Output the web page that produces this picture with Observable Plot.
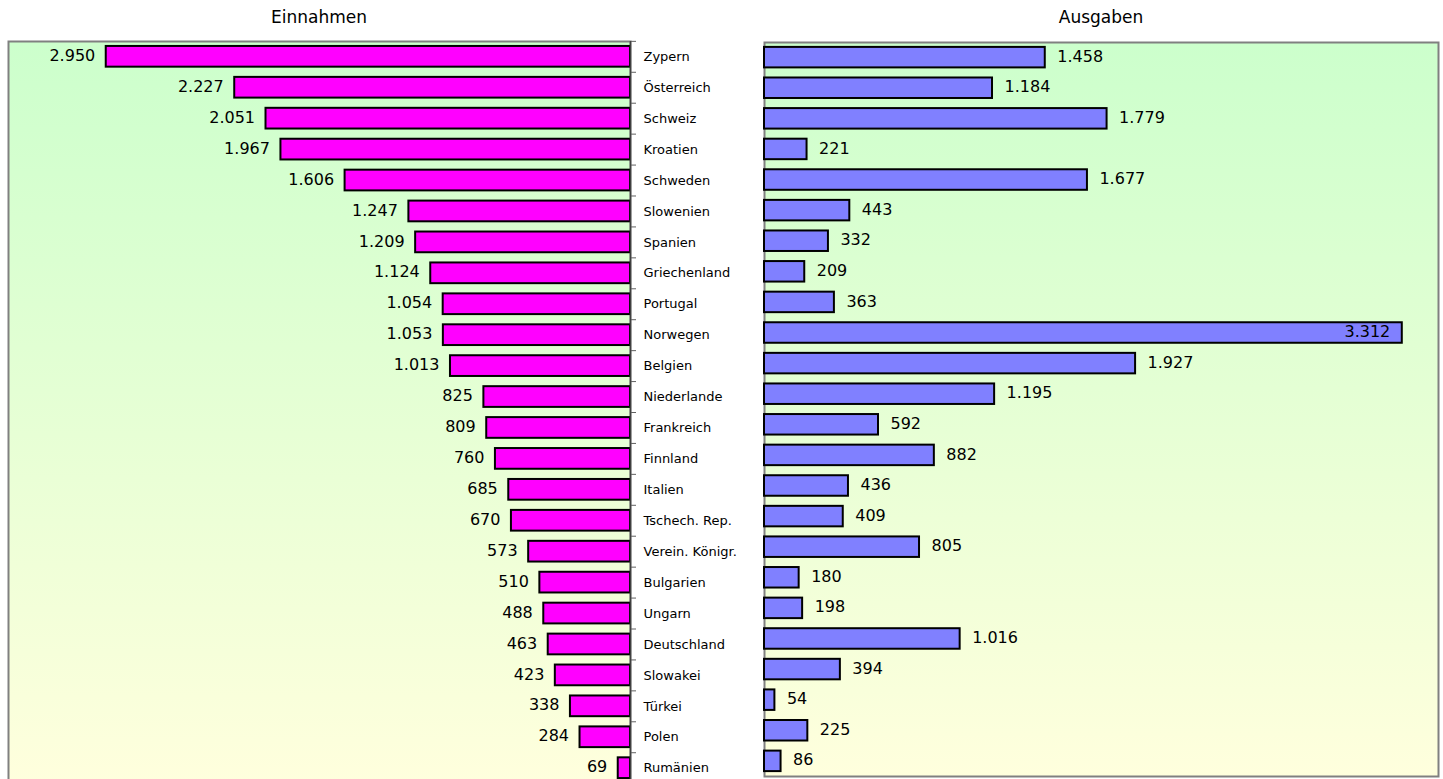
<!DOCTYPE html>
<html>
<head>
<meta charset="utf-8">
<script src="https://cdn.jsdelivr.net/npm/d3@7"></script>
<script src="https://cdn.jsdelivr.net/npm/@observablehq/plot@0.6"></script>
<style>
  html, body { margin: 0; padding: 0; background: #fff; }
  #wrap { position: relative; width: 1443px; height: 779px; overflow: hidden; font-family: "DejaVu Sans", sans-serif; }
  .title { position: absolute; top: 7px; font-size: 17px; color: #000; transform: translateX(-50%); white-space: nowrap; }
  #left, #right { position: absolute; top: 0; }
</style>
</head>
<body>
<div id="wrap">
  <div class="title" id="tL">Einnahmen</div>
  <div class="title" id="tR">Ausgaben</div>
  <div id="left"></div>
  <div id="right"></div>
</div>
<script>
const countries = ["Zypern", "Österreich", "Schweiz", "Kroatien", "Schweden", "Slowenien", "Spanien", "Griechenland", "Portugal", "Norwegen", "Belgien", "Niederlande", "Frankreich", "Finnland", "Italien", "Tschech. Rep.", "Verein. Königr.", "Bulgarien", "Ungarn", "Deutschland", "Slowakei", "Türkei", "Polen", "Rumänien"];
const einnahmen = [2950, 2227, 2051, 1967, 1606, 1247, 1209, 1124, 1054, 1053, 1013, 825, 809, 760, 685, 670, 573, 510, 488, 463, 423, 338, 284, 69];
const ausgaben = [1458, 1184, 1779, 221, 1677, 443, 332, 209, 363, 3312, 1927, 1195, 592, 882, 436, 409, 805, 180, 198, 1016, 394, 54, 225, 86];
const titles = ["Einnahmen", "Ausgaben"];

const data = countries.map((c, i) => ({country: c, einnahmen: einnahmen[i], ausgaben: ausgaben[i]}));
const de = d3.formatLocale({decimal: ",", thousands: ".", grouping: [3], currency: ["", " €"]});
const fmt = de.format(",d");

document.getElementById("tL").textContent = titles[0];
document.getElementById("tR").textContent = titles[1];

function addGradient(svg, id) {
  const g = d3.select(svg).insert("defs", ":first-child")
    .append("linearGradient").attr("id", id)
    .attr("x1", 0).attr("y1", 0).attr("x2", 0).attr("y2", 1);
  g.append("stop").attr("offset", "0%").attr("stop-color", "#ccffcc");
  g.append("stop").attr("offset", "100%").attr("stop-color", "#ffffdd");
}

const font = "DejaVu Sans, sans-serif";

// Left panel (Einnahmen), bars grow leftwards
const LW = 760, LH = 800, LmL = 8, LmR = 130, LmT = 41, LmB = 17;
const stepL = (LH - LmT - LmB) / (countries.length - 0.33 + 2 * 0.16);
const left = Plot.plot({
  width: LW, height: LH,
  marginLeft: LmL, marginRight: LmR, marginTop: LmT, marginBottom: LmB,
  style: {fontFamily: font, background: "transparent", color: "#000"},
  x: {domain: [0, 3500], reverse: true, axis: null},
  y: {domain: countries, paddingInner: 0.33, paddingOuter: 0.16, round: false, axis: null},
  marks: [
    Plot.frame({fill: "url(#bgL)", stroke: "#808080", strokeWidth: 2}),
    Plot.barX(data, {x: "einnahmen", y: "country", fill: "#ff00ff", stroke: "#000", strokeWidth: 2}),
    Plot.text(data, {x: "einnahmen", y: "country", text: d => fmt(d.einnahmen), textAnchor: "end", dx: -11, dy: -1, fontSize: 16, fill: "#000"}),
    Plot.ruleX([0], {stroke: "#404040", strokeWidth: 1.5}),
    Plot.axisY({anchor: "right", tickSize: 5, tickFormat: () => "", label: null, dy: -stepL / 2, stroke: "#606060"}),
    Plot.axisY({anchor: "right", tickSize: 0, tickPadding: 13, fontSize: 13, label: null, fill: "#000"})
  ]
});
addGradient(left, "bgL");
const leftDiv = document.getElementById("left");
leftDiv.style.left = "0px";
leftDiv.appendChild(left);
document.getElementById("tL").style.left = (LmL + (LW - LmR - LmL) / 2) + "px";

// Right panel (Ausgaben)
const RX = 750, RW = 693, RH = 800, RmL = 14, RmR = 5, RmT = 42, RmB = 24;
const right = Plot.plot({
  width: RW, height: RH,
  marginLeft: RmL, marginRight: RmR, marginTop: RmT, marginBottom: RmB,
  style: {fontFamily: font, background: "transparent", color: "#000"},
  x: {domain: [0, 3500], axis: null},
  y: {domain: countries, paddingInner: 0.33, paddingOuter: 0.16, round: false, axis: null},
  marks: [
    Plot.frame({fill: "url(#bgR)", stroke: "#808080", strokeWidth: 2}),
    Plot.barX(data, {x: "ausgaben", y: "country", fill: "#8080ff", stroke: "#000", strokeWidth: 2}),
    Plot.text(data.filter(d => d.ausgaben < 3000), {x: "ausgaben", y: "country", text: d => fmt(d.ausgaben), textAnchor: "start", dx: 12, dy: -1, fontSize: 16, fill: "#000"}),
    Plot.text(data.filter(d => d.ausgaben >= 3000), {x: "ausgaben", y: "country", text: d => fmt(d.ausgaben), textAnchor: "end", dx: -12, dy: -1, fontSize: 16, fill: "#000"})
  ]
});
addGradient(right, "bgR");
const rightDiv = document.getElementById("right");
rightDiv.style.left = RX + "px";
rightDiv.appendChild(right);
document.getElementById("tR").style.left = (RX + RmL + (RW - RmR - RmL) / 2) + "px";
</script>
</body>
</html>
